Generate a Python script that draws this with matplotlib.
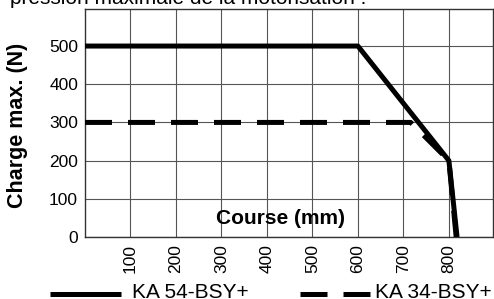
import matplotlib.pyplot as plt
from matplotlib.lines import Line2D

plt.rcParams["font.family"] = ["Liberation Sans", "DejaVu Sans"]

# -----------------------------
# Data
# -----------------------------
ka54_x = [0, 600, 800, 818]
ka54_y = [500, 500, 200, 0]

ka34_x = [0, 716, 800, 816]
ka34_y = [300, 300, 200, 0]

x_ticks = [100, 200, 300, 400, 500, 600, 700, 800]
y_ticks = [0, 100, 200, 300, 400, 500]

W, H = 494, 299

# -----------------------------
# Figure
# -----------------------------
fig = plt.figure(figsize=(W / 100, H / 100), dpi=100)
ax = fig.add_axes([85 / W, 1 - 237 / H, 408 / W, 228 / H])

ax.plot(ka54_x, ka54_y, color="black", lw=3.6, solid_capstyle="butt", zorder=3)
ax.plot(ka34_x, ka34_y, color="black", lw=3.6, dashes=(5.4, 3.2), zorder=3)

ax.set_xlim(0, 897)
ax.set_ylim(0, 597)
ax.set_xticks(x_ticks)
ax.set_xticklabels([str(t) for t in x_ticks], rotation=90, fontsize=12.5)
ax.set_yticks(y_ticks)
ax.set_yticklabels([str(t) for t in y_ticks], fontsize=12.5)
ax.tick_params(length=0, pad=5)
ax.grid(True, color="#555555", lw=0.8)
for s in ax.spines.values():
    s.set_color("#333333")
    s.set_linewidth(1)

ax.set_ylabel("Charge max. (N)", fontsize=15.5, fontweight="bold")
ax.yaxis.set_label_coords(-0.14, 0.49)
ax.text(0.48, 0.083, "Course (mm)", transform=ax.transAxes, fontsize=15,
        fontweight="bold", ha="center", va="center")

fig.text(10 / W, 1 - 4 / H, "pression maximale de la motorisation :", fontsize=15,
         ha="left", va="baseline")

# legend drawn by hand below the axes
ly = 1 - 294 / H
ty = 1 - 297.5 / H
fig.add_artist(Line2D([50 / W, 121 / W], [ly, ly], color="black", lw=3.6,
                      solid_capstyle="butt"))
fig.text(132 / W, ty, "KA 54-BSY+", fontsize=15, va="baseline")
fig.add_artist(Line2D([300 / W, 327 / W], [ly, ly], color="black", lw=3.6,
                      solid_capstyle="butt"))
fig.add_artist(Line2D([343 / W, 370 / W], [ly, ly], color="black", lw=3.6,
                      solid_capstyle="butt"))
fig.text(375 / W, ty, "KA 34-BSY+", fontsize=15, va="baseline")

fig.savefig("out.png", dpi=100)
